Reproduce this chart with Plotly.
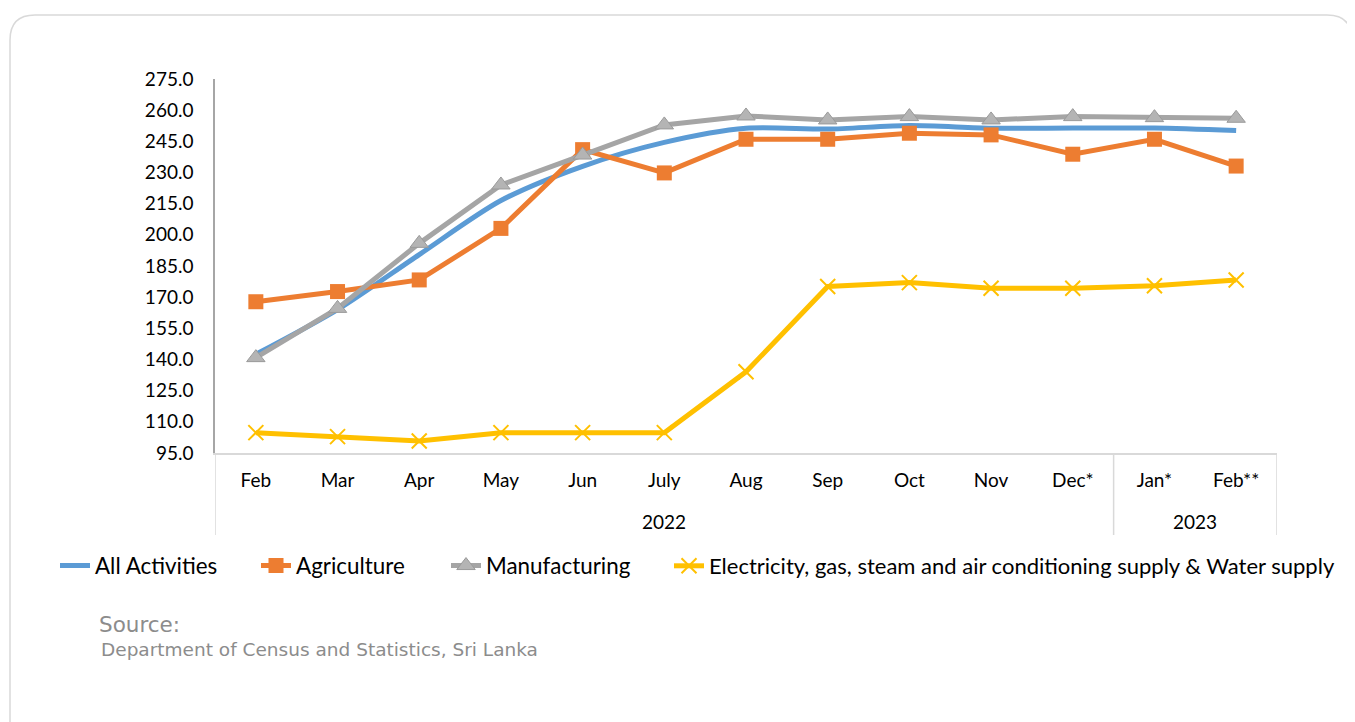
import plotly.graph_objects as go

months = ["Feb", "Mar", "Apr", "May", "Jun", "July", "Aug", "Sep", "Oct", "Nov", "Dec*", "Jan*", "Feb**"]
years = ["2022"] * 11 + ["2023"] * 2

all_activities = [142.5, 164.0, 190.5, 216.5, 233.0, 244.5, 251.3, 250.9, 252.6, 251.3, 251.4, 251.4, 250.2]
agriculture = [167.8, 172.7, 178.3, 203.1, 241.0, 229.8, 246.0, 246.0, 248.9, 248.1, 238.8, 246.0, 233.1]
manufacturing = [140.9, 164.6, 195.9, 224.0, 238.4, 252.9, 257.2, 255.3, 256.9, 255.3, 256.9, 256.4, 256.1]
electricity = [104.8, 102.9, 100.8, 104.8, 104.8, 104.8, 134.1, 175.1, 177.0, 174.3, 174.3, 175.5, 178.3]

y_ticks = [95, 110, 125, 140, 155, 170, 185, 200, 215, 230, 245, 260, 275]

# page geometry (browser body has an 8px margin)
OFF = 8
W, H = 1355 - OFF, 722 - OFF
L, R, T, B = 215, 1277, 79, 453   # plot area in page pixels

FONT = "Lato"


def px(v):
    return (v - L) / (R - L)


def py(v):
    return (B - v) / (B - T)


fig = go.Figure()
fig.add_trace(go.Scatter(
    x=months, y=all_activities, name="All Activities", mode="lines",
    line=dict(color="#5B9BD5", width=5, shape="spline", smoothing=0.8),
    legend="legend",
))
fig.add_trace(go.Scatter(
    x=months, y=agriculture, name="Agriculture", mode="lines+markers",
    line=dict(color="#ED7D31", width=5),
    marker=dict(symbol="square", size=15, color="#ED7D31"),
    legend="legend2",
))
fig.add_trace(go.Scatter(
    x=months, y=manufacturing, name="Manufacturing", mode="lines+markers",
    line=dict(color="#A5A5A5", width=5),
    marker=dict(symbol="triangle-up", size=16, color="#B4B4B4",
                line=dict(color="#9A9A9A", width=1)),
    legend="legend3",
))
fig.add_trace(go.Scatter(
    x=months, y=electricity,
    name="Electricity, gas, steam and air conditioning supply & Water supply",
    mode="lines+markers",
    line=dict(color="#FFC000", width=5),
    marker=dict(symbol="x-thin", size=15, color="#FFC000",
                line=dict(color="#FFC000", width=2)),
    legend="legend4",
))

# rounded card border
r = 25
x0, y0, x1, y1 = 10, 15, 1352, 760
path = (f"M {px(x0)},{py(y1)} L {px(x0)},{py(y0 + r)} "
        f"Q {px(x0)},{py(y0)} {px(x0 + r)},{py(y0)} "
        f"L {px(x1 - r)},{py(y0)} Q {px(x1)},{py(y0)} {px(x1)},{py(y0 + r)} "
        f"L {px(x1)},{py(y1)}")

shapes = [dict(type="path", path=path, xref="paper", yref="paper",
               line=dict(color="#D9D9D9", width=1.5), layer="below")]

# group dividers and year labels for the two-level category axis
annotations = []
groups = []
for i, yv in enumerate(years):
    if not groups or groups[-1][0] != yv:
        groups.append([yv, i, i])
    else:
        groups[-1][2] = i
bounds = sorted({g[1] - 0.5 for g in groups} | {g[2] + 0.5 for g in groups})
for b in bounds:
    shapes.append(dict(type="line", xref="x", yref="paper", x0=b, x1=b, y0=0, y1=py(535),
                       line=dict(color="#D9D9D9", width=1.5)))
for yv, i0, i1 in groups:
    annotations.append(dict(text=yv, x=(i0 + i1) / 2, y=py(521), xref="x", yref="paper",
                            xanchor="center", yanchor="middle", showarrow=False,
                            font=dict(family=FONT, size=19, color="#000000")))

annotations += [
    dict(text="Source:", x=px(97), y=py(624), xref="paper", yref="paper",
         xanchor="left", yanchor="middle", showarrow=False,
         font=dict(family="DejaVu Sans", size=21.5, color="#8C8C8C")),
    dict(text="Department of Census and Statistics, Sri Lanka", x=px(99), y=py(649),
         xref="paper", yref="paper", xanchor="left", yanchor="middle", showarrow=False,
         font=dict(family="DejaVu Sans", size=18.5, color="#8C8C8C")),
]


def leg(xpage, size=22.4):
    return dict(orientation="h", x=px(xpage), xanchor="left", y=py(566), yanchor="middle",
                font=dict(family=FONT, size=size, color="#000000"),
                bgcolor="rgba(0,0,0,0)", borderwidth=0)


fig.update_layout(
    width=W, height=H,
    margin=dict(l=L - OFF, r=W - (R - OFF), t=T - OFF, b=H - (B - OFF), autoexpand=False),
    paper_bgcolor="white", plot_bgcolor="white",
    font=dict(family=FONT, color="#000000", size=19),
    showlegend=True,
    legend=leg(55), legend2=leg(256), legend3=leg(446), legend4=leg(669, 22),
    shapes=shapes,
    annotations=annotations,
)
fig.update_xaxes(
    type="category", range=[-0.5, len(months) - 0.5],
    showline=True, linecolor="#D9D9D9", linewidth=1.5,
    showgrid=False, ticks="outside", ticklen=9, tickcolor="rgba(0,0,0,0)",
    tickfont=dict(family=FONT, size=19, color="#000000"),
)
fig.update_yaxes(
    range=[95, 275], tickvals=y_ticks, ticktext=[f"{v:.1f}" for v in y_ticks],
    showline=True, linecolor="#A6A6A6", linewidth=1.5, showgrid=False, zeroline=False,
    ticks="outside", ticklen=16, tickcolor="rgba(0,0,0,0)",
    tickfont=dict(family=FONT, size=19, color="#000000"),
)

fig.write_html("out.html")
